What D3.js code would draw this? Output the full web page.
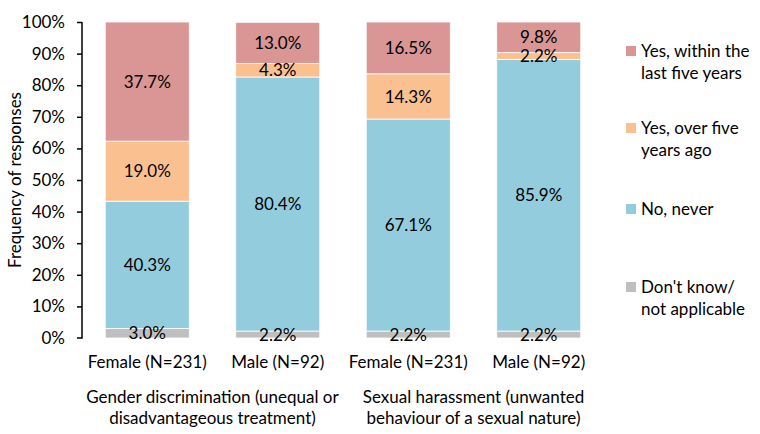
<!DOCTYPE html>
<html><head><meta charset="utf-8">
<script src="https://cdn.jsdelivr.net/npm/d3@7"></script>
<style>body{margin:0;background:#fff}svg{display:block;font-family:Lato,"Open Sans",sans-serif}</style>
</head><body><svg id="c" width="760" height="434"></svg>
<script>
const bars = ["Female (N=231)", "Male (N=92)", "Female (N=231) ", "Male (N=92) "];
const barLabels = ["Female (N=231)", "Male (N=92)", "Female (N=231)", "Male (N=92)"];
const groups = [
  ["Gender discrimination (unequal or", "disadvantageous treatment)"],
  ["Sexual harassment (unwanted", "behaviour of a sexual nature)"]
];
const seriesNames = ["Don't know/ not applicable", "No, never", "Yes, over five years ago", "Yes, within the last five years"];
const dontKnow = [3.0, 2.2, 2.2, 2.2];
const noNever = [40.3, 80.4, 67.1, 85.9];
const overFive = [19.0, 4.3, 14.3, 2.2];
const withinFive = [37.7, 13.0, 16.5, 9.8];
const colors = ["#BFBFBF", "#93CDDD", "#FAC090", "#D99694"];
const yTicks = [0,10,20,30,40,50,60,70,80,90,100];
const legendLines = [
  ["Yes, within the", "last five years"],
  ["Yes, over five", "years ago"],
  ["No, never"],
  ["Don't know/", "not applicable"]
];
const FS = 17;

const svg = d3.select("#c");
const x = d3.scaleBand().domain(bars).range([82, 604]).paddingInner(0.356).paddingOuter(0.178);
const y = d3.scaleLinear().domain([0, 100]).range([338, 22]).clamp(true);

const rows = bars.map((b, i) => ({bar: b, s0: dontKnow[i], s1: noNever[i], s2: overFive[i], s3: withinFive[i]}));
const stack = d3.stack().keys(["s0","s1","s2","s3"]);
const layers = stack(rows);

const g = svg.append("g");
layers.forEach((layer, li) => {
  g.selectAll(null).data(layer).enter().append("rect")
    .attr("x", d => x(d.data.bar))
    .attr("width", x.bandwidth())
    .attr("y", d => y(d[1]))
    .attr("height", d => y(d[0]) - y(d[1]))
    .attr("fill", colors[li])
    .attr("stroke", "#fff").attr("stroke-width", 0.8);
});
layers.forEach((layer, li) => {
  g.selectAll(null).data(layer).enter().append("text")
    .attr("x", d => x(d.data.bar) + x.bandwidth()/2)
    .attr("y", d => (y(d[0]) + y(d[1]))/2)
    .attr("dy", "0.36em")
    .attr("text-anchor", "middle")
    .attr("font-size", FS).attr("fill", "#000")
    .text(d => (d[1]-d[0]).toFixed(1) + "%");
});

// y axis
const yAxis = d3.axisLeft(y).tickValues(yTicks).tickFormat(d => d + "%").tickSize(5).tickPadding(12);
const ya = svg.append("g").attr("transform", "translate(82,0)").call(yAxis);
ya.select(".domain").attr("stroke", "#000").attr("stroke-width", 1.5).attr("d", "M-5,338H0V22");
ya.selectAll(".tick line").attr("stroke", "#000").attr("stroke-width", 1.5);
ya.selectAll(".tick text").attr("font-size", FS).attr("fill", "#000").attr("font-family", "Lato");
ya.selectAll(".tick").filter(d => d === 0).select("line").remove();

svg.append("text").attr("transform", "translate(15,180) rotate(-90)")
  .attr("text-anchor", "middle").attr("dy", "0.36em").attr("font-size", FS)
  .text("Frequency of responses");

// bar labels
svg.selectAll(null).data(bars).enter().append("text")
  .attr("x", d => x(d) + x.bandwidth()/2).attr("y", 362).attr("dy", "0.36em")
  .attr("text-anchor", "middle").attr("font-size", FS)
  .text((d, i) => barLabels[i]);

// group labels
groups.forEach((lines, gi) => {
  const cx = (x(bars[gi*2]) + x(bars[gi*2+1]) + x.bandwidth()) / 2;
  lines.forEach((t, li) => {
    svg.append("text").attr("x", cx).attr("y", 397 + li*21).attr("dy", "0.36em")
      .attr("text-anchor", "middle").attr("font-size", FS).text(t);
  });
});

// legend
const legY = [51, 128, 209, 287];
legendLines.forEach((lines, i) => {
  const ci = 3 - i;
  svg.append("rect").attr("x", 626).attr("y", legY[i]-5).attr("width", 10).attr("height", 10).attr("fill", colors[ci]);
  lines.forEach((t, li) => {
    svg.append("text").attr("x", 641).attr("y", legY[i] + li*22).attr("dy", "0.36em")
      .attr("font-size", FS).text(t);
  });
});
</script></body></html>
